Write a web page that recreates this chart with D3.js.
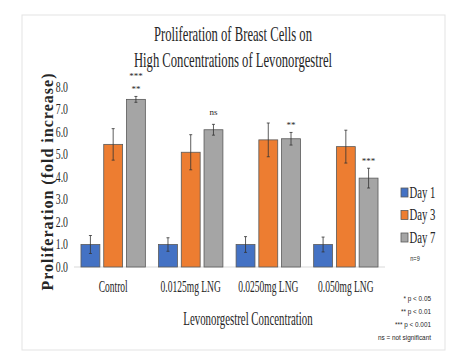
<!DOCTYPE html>
<html>
<head>
<meta charset="utf-8">
<script src="https://cdn.jsdelivr.net/npm/d3@7"></script>
<style>
  body { margin: 0; background: #fff; }
  svg text { font-family: "Liberation Serif", "Times New Roman", serif; fill: #262626; }
</style>
</head>
<body>
<svg id="chart" width="467" height="359"></svg>
<script>
// data
const categories = ["Control", "0.0125mg LNG", "0.0250mg LNG", "0.050mg LNG"];
const days = ["Day 1", "Day 3", "Day 7"];
const day1 = [1.0, 1.0, 1.0, 1.0];
const day3 = [5.45, 5.1, 5.65, 5.35];
const day7 = [7.45, 6.1, 5.7, 3.95];
const day1Err = [0.4, 0.3, 0.35, 0.33];
const day3Err = [0.7, 0.78, 0.75, 0.73];
const day7Err = [0.13, 0.24, 0.28, 0.44];
const day7Marks = [["**", "***"], ["ns"], ["**"], ["***"]];
const yTicks = [0, 1, 2, 3, 4, 5, 6, 7, 8];
const footnotes = ["* p < 0.05", "** p < 0.01", "*** p < 0.001", "ns = not significant"];

const colors = { "Day 1": "#4472c4", "Day 3": "#ed7d31", "Day 7": "#a5a5a5" };

const svg = d3.select("#chart");

// the source image is narrowed, so squeeze text sideways with a transform
function squash(sel, k) {
    sel.each(function () {
        const t = d3.select(this);
        const x = +t.attr("x") || 0, y = +t.attr("y") || 0;
        t.attr("x", 0).attr("y", 0)
            .attr("transform", `translate(${x},${y}) scale(${k},1)`);
    });
    return sel;
}

// frame
svg.append("rect")
    .attr("x", 22).attr("y", 15).attr("width", 423).attr("height", 335)
    .attr("fill", "#fff").attr("stroke", "#e3e3e3");

const x0 = d3.scaleBand().domain(categories).range([74, 385]).paddingInner(0.17).paddingOuter(0.09);
const x1 = d3.scaleBand().domain(days).range([0, x0.bandwidth()]).paddingInner(0.17);
const y = d3.scaleLinear().domain([0, 8]).range([267, 87]);

const rows = categories.map((c, i) => ({
    cat: c,
    vals: [
        { day: "Day 1", v: day1[i], e: day1Err[i] },
        { day: "Day 3", v: day3[i], e: day3Err[i] },
        { day: "Day 7", v: day7[i], e: day7Err[i] }
    ]
}));

// titles
const title = svg.append("g").attr("text-anchor", "middle");
squash(title.append("text").attr("x", 233).attr("y", 41).attr("font-size", 22)
    .text("Proliferation of Breast Cells on"), 0.575);
squash(title.append("text").attr("x", 233).attr("y", 67).attr("font-size", 22)
    .text("High Concentrations of Levonorgestrel"), 0.575);

// y ticks
svg.append("g").selectAll("text")
    .data(yTicks)
    .join("text")
    .attr("x", 68)
    .attr("y", d => y(d))
    .attr("dy", "0.35em")
    .attr("text-anchor", "end")
    .attr("font-size", 14)
    .text(d => d.toFixed(1))
    .call(s => squash(s, 0.7));

// y label
svg.append("text")
    .attr("transform", "translate(53,182) rotate(-90)")
    .attr("text-anchor", "middle")
    .attr("font-size", 16)
    .attr("font-weight", "bold")
    .attr("textLength", 217)
    .attr("lengthAdjust", "spacing")
    .text("Proliferation (fold increase)");

// baseline
svg.append("line")
    .attr("x1", 74).attr("x2", 385)
    .attr("y1", y(0)).attr("y2", y(0))
    .attr("stroke", "#d9d9d9");

const groups = svg.append("g").selectAll("g")
    .data(rows)
    .join("g")
    .attr("transform", d => `translate(${x0(d.cat)},0)`);

groups.selectAll("rect")
    .data(d => d.vals)
    .join("rect")
    .attr("x", d => x1(d.day))
    .attr("y", d => y(d.v))
    .attr("width", x1.bandwidth())
    .attr("height", d => y(0) - y(d.v))
    .attr("fill", d => colors[d.day])
    .attr("stroke", "#5a5a5a")
    .attr("stroke-width", 0.8);

// error bars
const err = groups.selectAll("g.err")
    .data(d => d.vals)
    .join("g")
    .attr("class", "err")
    .attr("stroke", "#333")
    .attr("stroke-width", 0.8);
err.append("line")
    .attr("x1", d => x1(d.day) + x1.bandwidth() / 2)
    .attr("x2", d => x1(d.day) + x1.bandwidth() / 2)
    .attr("y1", d => y(d.v + d.e))
    .attr("y2", d => y(d.v - d.e));
err.append("line")
    .attr("x1", d => x1(d.day) + x1.bandwidth() / 2 - 1.5)
    .attr("x2", d => x1(d.day) + x1.bandwidth() / 2 + 1.5)
    .attr("y1", d => y(d.v + d.e))
    .attr("y2", d => y(d.v + d.e));
err.append("line")
    .attr("x1", d => x1(d.day) + x1.bandwidth() / 2 - 1.5)
    .attr("x2", d => x1(d.day) + x1.bandwidth() / 2 + 1.5)
    .attr("y1", d => y(d.v - d.e))
    .attr("y2", d => y(d.v - d.e));

// significance marks above Day 7
groups.each(function (d, i) {
    const top = y(day7[i] + day7Err[i]);
    const cx = x1("Day 7") + x1.bandwidth() / 2;
    day7Marks[i].forEach((m, j) => {
        d3.select(this).append("text")
            .attr("x", cx)
            .attr("y", top - (m === "ns" ? 9 : 4) - j * 13)
            .attr("text-anchor", "middle")
            .attr("font-size", 9)
            .attr("fill", "#404040")
            .text(m);
    });
});

// category labels
svg.append("g").selectAll("text")
    .data(categories)
    .join("text")
    .attr("x", d => x0(d) + x0.bandwidth() / 2)
    .attr("y", 292)
    .attr("text-anchor", "middle")
    .attr("font-size", 17)
    .text(d => d)
    .call(s => squash(s, 0.56));

// x title
squash(svg.append("text")
    .attr("x", 248).attr("y", 325)
    .attr("text-anchor", "middle")
    .attr("font-size", 19)
    .text("Levonorgestrel Concentration"), 0.57);

// legend
const legend = svg.append("g").selectAll("g")
    .data(days)
    .join("g")
    .attr("transform", (d, i) => `translate(401,${188 + i * 22.5})`);
legend.append("rect")
    .attr("width", 7).attr("height", 9)
    .attr("fill", d => colors[d])
    .attr("stroke", "#5a5a5a")
    .attr("stroke-width", 0.8);
legend.append("text")
    .attr("x", 8.5).attr("y", 9.5)
    .attr("font-size", 17)
    .text(d => d)
    .call(s => squash(s, 0.63));

svg.append("text")
    .attr("x", 415).attr("y", 261)
    .attr("text-anchor", "middle")
    .attr("font-size", 7)
    .attr("fill", "#555")
    .style("font-family", "'Liberation Sans Narrow', 'Liberation Sans', sans-serif")
    .text("n=9")
    .call(s => squash(s, 0.8));

// footnotes
svg.append("g").selectAll("text")
    .data(footnotes)
    .join("text")
    .attr("x", 431)
    .attr("y", (d, i) => 301 + i * 13)
    .attr("text-anchor", "end")
    .attr("font-size", 8)
    .attr("fill", "#404040")
    .style("font-family", "'Liberation Sans Narrow', 'Liberation Sans', sans-serif")
    .text(d => d)
    .call(s => squash(s, 0.8));
</script>
</body>
</html>
